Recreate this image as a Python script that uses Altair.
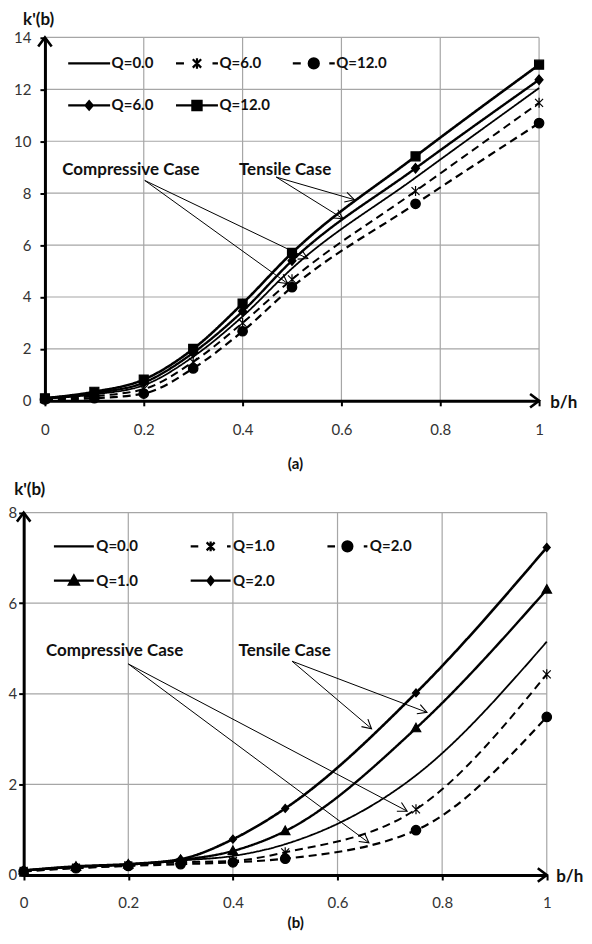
import math
import altair as alt
import pandas as pd

FONT = "Lato"
VIEW_W, VIEW_H = 576, 924

# ---------------- data ----------------
b_over_h = [0.0, 0.1, 0.2, 0.3, 0.4, 0.5, 0.75, 1.0]

# panel (a)
a_keys = ["a|Q=0.0", "a|Q=6.0|c", "a|Q=12.0|c", "a|Q=6.0|t", "a|Q=12.0|t"]
a_q0 = [0.08, 0.25, 0.60, 1.70, 3.25, 5.10, 8.60, 12.05]
a_comp_q6 = [0.06, 0.18, 0.45, 1.50, 3.00, 4.68, 8.08, 11.48]
a_comp_q12 = [0.05, 0.10, 0.28, 1.25, 2.68, 4.38, 7.59, 10.70]
a_tens_q6 = [0.10, 0.30, 0.70, 1.85, 3.45, 5.40, 8.96, 12.37]
a_tens_q12 = [0.10, 0.35, 0.82, 2.00, 3.75, 5.70, 9.42, 12.95]

# panel (b)
b_keys = ["b|Q=0.0", "b|Q=1.0|c", "b|Q=2.0|c", "b|Q=1.0|t", "b|Q=2.0|t"]
b_q0 = [0.10, 0.18, 0.23, 0.32, 0.42, 0.68, 2.20, 5.15]
b_comp_q1 = [0.09, 0.16, 0.21, 0.28, 0.31, 0.50, 1.45, 4.43]
b_comp_q2 = [0.08, 0.15, 0.20, 0.24, 0.28, 0.36, 0.99, 3.49]
b_tens_q1 = [0.10, 0.18, 0.23, 0.33, 0.53, 0.97, 3.24, 6.30]
b_tens_q2 = [0.10, 0.19, 0.24, 0.35, 0.79, 1.47, 4.02, 7.23]

x_ticks = [0, 0.2, 0.4, 0.6, 0.8, 1.0]

note_text = ["Compressive Case", "Tensile Case"]

# text / annotation anchors (data coordinates of each panel)
a_title = {"k'(b)": (-0.0127, 14.68), "(a)": (0.507, -2.43), "b/h": (1.05, -0.08)}
b_title = {"k'(b)": (0.0115, 8.50), "(b)": (0.520, -1.06), "b/h": (1.044, -0.05)}

a_note_x = [0.174, 0.486]
a_note_y = [8.9, 8.9]
a_arr_x1 = [0.202, 0.202, 0.468, 0.468]
a_arr_y1 = [8.49, 8.49, 8.62, 8.62]
a_arr_x2 = [0.532, 0.491, 0.626, 0.603]
a_arr_y2 = [5.48, 4.52, 7.75, 7.02]

b_note_x = [0.174, 0.499]
b_note_y = [4.94, 4.94]
b_arr_x1 = [0.200, 0.200, 0.513, 0.513]
b_arr_y1 = [4.66, 4.66, 4.72, 4.72]
b_arr_x2 = [0.733, 0.660, 0.771, 0.665]
b_arr_y2 = [1.41, 0.71, 3.59, 3.23]

# ---------------- layout (pixel ranges of each panel inside the single view) ----------------
A_XR = [37.0, 532.0]
A_YR = [392.7, 28.7]
B_XR = [15.7, 539.7]
B_YR = [867.7, 504.7]

# ---------------- styles ----------------
DASHES = [[1, 0], [8, 5], [8, 5], [1, 0], [1, 0]]
WIDTHS = [1.8, 2.6, 2.6, 2.6, 2.6]
GRID = "#a6a6a6"

STAR = "M-0.8,-0.8L0.8,0.8M-0.8,0.8L0.8,-0.8M0,-1L0,1"
CIRC = "M0.95,0A0.95,0.95 0 1 1 -0.95,0A0.95,0.95 0 1 1 0.95,0Z"
SQUARE = "M-0.9,-0.9L0.9,-0.9L0.9,0.9L-0.9,0.9Z"
DIAM = "M0,-0.95L0.8,0L0,0.95L-0.8,0Z"
TRI = "M0,-1L0.95,0.7L-0.95,0.7Z"
DIAM_S = "M0,-0.8L0.7,0L0,0.8L-0.7,0Z"

a_marks = [STAR, CIRC, DIAM, SQUARE]
b_marks = [STAR, CIRC, TRI, DIAM_S]

A_LEG = [
    "M-1,0L1,0",
    "M-1,0L-0.62,0M0.74,0L1,0M-0.2,-0.2L0.2,0.2M-0.2,0.2L0.2,-0.2M0,-0.25L0,0.25",
    "M-1,0L-0.62,0M0.74,0L1,0M0.24,0A0.24,0.24 0 1 1 -0.24,0A0.24,0.24 0 1 1 0.24,0Z",
    "M-1,0L1,0M0,-0.2L0.17,0L0,0.2L-0.17,0Z",
    "M-1,0L1,0M-0.22,-0.22L0.22,-0.22L0.22,0.22L-0.22,0.22Z",
]
B_LEG = [
    "M-1,0L1,0",
    "M-1,0L-0.62,0M0.82,0L1,0M-0.2,-0.2L0.2,0.2M-0.2,0.2L0.2,-0.2M0,-0.25L0,0.25",
    "M-1,0L-0.62,0M0.82,0L1,0M0.25,0A0.25,0.25 0 1 1 -0.25,0A0.25,0.25 0 1 1 0.25,0Z",
    "M-1,0L1,0M0,-0.26L0.25,0.2L-0.25,0.2Z",
    "M-1,0L1,0M0,-0.2L0.16,0L0,0.2L-0.16,0Z",
]

AX_HEAD = "M-1,-0.75L0,0L-1,0.75"
ANN_HEAD = "M-1,-0.55L0,0L-1,0.55"


def panel(keys, values, marks, legend_paths, legend_size, legend_opts, xr, yr, ymax,
          ylab_pad, xlab_pad, titles, nx, ny, ax1, ay1, ax2, ay2):
    rows = []
    for k, vals in zip(keys, values):
        for xv, yv in zip(b_over_h, vals):
            rows.append({"x": xv, "y": yv, "key": k})
    long = pd.DataFrame(rows)

    W = xr[1] - xr[0]
    H = yr[0] - yr[1]
    y_ticks = list(range(0, ymax + 1, 2))
    xs = alt.Scale(domain=[0, 1], range=xr, nice=False, zero=False)
    ys = alt.Scale(domain=[0, ymax], range=yr, nice=False, zero=False)
    xax = alt.Axis(orient="bottom", offset=yr[0] - VIEW_H, values=x_ticks, format=".1~f",
                   labelPadding=xlab_pad, title=None, grid=False, labelFlush=False, zindex=1)
    yax = alt.Axis(orient="left", offset=-xr[0], values=y_ticks,
                   labelPadding=ylab_pad, title=None, grid=False, labelFlush=False, zindex=1)
    X = alt.X("x:Q", scale=xs, axis=xax)
    Y = alt.Y("y:Q", scale=ys, axis=yax)

    # grid lines
    gx = [v for v in x_ticks if v > 0]
    gy = [v for v in y_ticks if v > 0]
    gdf = pd.DataFrame({
        "x": gx + [0.0] * len(gy),
        "x2": gx + [1.0] * len(gy),
        "y": [0.0] * len(gx) + gy,
        "y2": [float(ymax)] * len(gx) + gy,
    })
    grid = alt.Chart(gdf).mark_rule(color=GRID, strokeWidth=1.2).encode(
        x=X, y=Y, x2="x2:Q", y2="y2:Q")

    lines = alt.Chart(long).mark_line(interpolate="monotone", color="black").encode(
        x=X, y=Y,
        strokeDash=alt.StrokeDash("key:N", scale=alt.Scale(domain=keys, range=DASHES), legend=None),
        strokeWidth=alt.StrokeWidth("key:N", scale=alt.Scale(domain=keys, range=WIDTHS), legend=None),
    )
    pts = alt.Chart(long).transform_filter(alt.datum.key != keys[0]).mark_point(
        filled=True, fill="black", stroke="black", strokeWidth=1.2, size=100, opacity=1
    ).encode(
        x=X, y=Y,
        shape=alt.Shape("key:N", scale=alt.Scale(domain=keys[1:], range=marks), legend=None),
    )
    # legend: filled part (markers) + stroked part (lines), drawn on top of each other
    leg_fill = alt.Chart(long).transform_filter("false").mark_point(
        filled=True, fill="black", strokeWidth=2.2, size=legend_size, opacity=1
    ).encode(
        x=X, y=Y,
        shape=alt.Shape("key:N", scale=alt.Scale(domain=keys, range=legend_paths),
                        legend=alt.Legend(**legend_opts)),
    )
    leg_line = alt.Chart(long).transform_filter("false").mark_point(
        filled=False, color="black", strokeWidth=2.2, size=legend_size, opacity=1
    ).encode(
        x=X, y=Y,
        shape=alt.Shape("key:N", scale=alt.Scale(domain=keys, range=legend_paths),
                        legend=alt.Legend(**dict(legend_opts, labelOpacity=0))),
    )

    ndf = pd.DataFrame({"x": nx, "y": ny, "t": note_text})
    notes = alt.Chart(ndf).mark_text(font=FONT, fontSize=17, fontWeight="bold", color="#111").encode(
        x=X, y=Y, text="t:N")

    adf = pd.DataFrame({"x": ax1, "y": ay1, "x2": ax2, "y2": ay2})
    rules = alt.Chart(adf).mark_rule(color="black", strokeWidth=1).encode(
        x=X, y=Y, x2="x2:Q", y2="y2:Q")
    ky = H / ymax
    ang = [(math.degrees(math.atan2(-(b2 - b1) * ky, (a2 - a1) * W)) + 360.0) % 360.0
           for a1, b1, a2, b2 in zip(ax1, ay1, ax2, ay2)]
    hdf = pd.DataFrame({"x": ax2, "y": ay2, "a": ang})
    heads = alt.Chart(hdf).mark_point(shape=ANN_HEAD, size=324, filled=False, color="black",
                                      strokeWidth=1.1, opacity=1).encode(
        x=X, y=Y, angle=alt.Angle("a:Q", scale=None))

    axdf = pd.DataFrame({"x": [0.0, 1.0], "y": [float(ymax), 0.0], "a": [270.0, 0.0]})
    axheads = alt.Chart(axdf).mark_point(shape=AX_HEAD, size=324, filled=False, color="black",
                                         strokeWidth=2.6, opacity=1).encode(
        x=X, y=Y, angle=alt.Angle("a:Q", scale=None))

    names = list(titles.keys())
    tdf = pd.DataFrame({"x": [titles[n][0] for n in names], "y": [titles[n][1] for n in names],
                        "t": names, "fs": [15 if n.startswith("(") else 17 for n in names]})
    ttl = alt.Chart(tdf).mark_text(font=FONT, fontWeight="bold", color="#111").encode(
        x=X, y=Y, text="t:N", size=alt.Size("fs:Q", scale=None, legend=None))

    return alt.layer(grid, lines, pts, leg_fill, leg_line, rules, heads, axheads, notes, ttl).resolve_scale(
        shape="independent")


common_leg = dict(orient="none", direction="horizontal", columns=3, title=None,
                  labelExpr="split(datum.label, '|')[1]", symbolStrokeWidth=2.2,
                  symbolOpacity=1,
                  labelFont=FONT, labelFontSize=15, labelFontWeight="bold", labelColor="#111",
                  padding=0, gridAlign="none")

top_leg = dict(common_leg, legendX=58.8, legendY=32.2, symbolSize=1764, labelOffset=0,
               columnPadding=18, rowPadding=9.1)
bot_leg = dict(common_leg, legendX=44.5, legendY=517.0, symbolSize=1600, labelOffset=1,
               columnPadding=48, rowPadding=3.4)

top = panel(a_keys, [a_q0, a_comp_q6, a_comp_q12, a_tens_q6, a_tens_q12], a_marks, A_LEG, 1764,
            top_leg, A_XR, A_YR, 14, 9, 17, a_title,
            a_note_x, a_note_y, a_arr_x1, a_arr_y1, a_arr_x2, a_arr_y2)

bottom = panel(b_keys, [b_q0, b_comp_q1, b_comp_q2, b_tens_q1, b_tens_q2], b_marks, B_LEG, 1600,
               bot_leg, B_XR, B_YR, 8, 2, 16, b_title,
               b_note_x, b_note_y, b_arr_x1, b_arr_y1, b_arr_x2, b_arr_y2)

chart = alt.layer(top, bottom).resolve_scale(
    x="independent", y="independent", shape="independent",
    strokeDash="independent", strokeWidth="independent", size="independent"
).properties(width=VIEW_W, height=VIEW_H, padding=0, background="white").configure_view(
    stroke=None
).configure_axis(
    domainColor="black", domainWidth=3, tickColor="black", tickWidth=2, tickSize=5,
    labelFont=FONT, labelFontSize=15, labelColor="#333333",
)

chart.save("out.html", embed_options={"renderer": "svg", "actions": False})
